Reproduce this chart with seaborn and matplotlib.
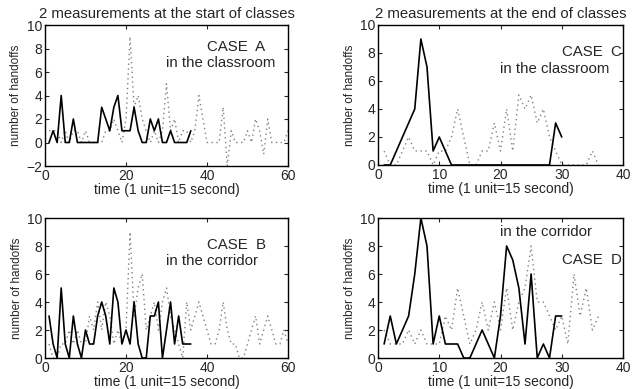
import numpy as np
import pandas as pd
import seaborn as sns
import matplotlib.pyplot as plt

# case A: start of classes, classroom
a_solid = [0, 1, 0, 4, 0, 0, 2, 0, 0, 0, 0, 0, 0, 3, 2, 1, 3, 4, 1, 1, 1, 3, 1, 0, 0, 2, 1, 2, 0, 0,
           1, 0, 0, 0, 0, 1]
a_dotted = [1, 1, 1, 0, 1, 0, 1, 1, 0, 1, 0, 0, 0, 0, 1, 1, 2, 1, 0, 2, 9, 3, 4, 2, 1, 0, 1, 0, 1, 5,
            1, 2, 0, 1, 1, 0, 1, 4, 2, 0, 0, 0, 0, 3, -2, 1, 0, 0, 0, 1, 0, 2, 1, -1, 2, 0, 0, 0, 0, 1]
# case B: start of classes, corridor
b_solid = [3, 1, 0, 5, 1, 0, 3, 1, 0, 2, 1, 1, 3, 4, 3, 1, 5, 4, 1, 2, 1, 4, 1, 0, 0, 3, 3, 4, 0, 2,
           4, 1, 3, 1, 1, 1]
b_dotted = [1, 0, 0, 1, 1, 2, 1, 2, 1, 1, 3, 2, 4, 2, 4, 3, 1, 2, 1, 2, 9, 3, 5, 6, 2, 3, 4, 2, 4, 5,
            3, 2, 1, 0, 4, 2, 3, 4, 3, 2, 1, 1, 2, 4, 2, 1, 1, 0, 0, 1, 2, 3, 1, 2, 3, 2, 1, 1, 2, 1]
# case C: end of classes, classroom
c_solid = [0, 0, 1, 2, 3, 4, 9, 7, 1, 2, 1, 0, 0, 0, 0, 0, 0, 0, 0, 0, 0, 0, 0, 0, 0, 0, 0, 0, 3, 2]
c_dotted = [1, 0, 0, 1, 2, 1, 1, 1, 0, 1, 1, 2, 4, 2, 0, 0, 1, 1, 3, 1, 4, 1, 5, 4, 5, 3, 4, 2, 1, 0,
            0, 0, 0, 0, 1, 0]
# case D: end of classes, corridor
d_solid = [1, 3, 1, 2, 3, 6, 10, 8, 1, 3, 1, 1, 1, 0, 0, 1, 2, 1, 0, 3, 8, 7, 5, 1, 6, 0, 1, 0, 3, 3]
d_dotted = [2, 1, 1, 1, 2, 1, 2, 1, 1, 1, 3, 2, 5, 3, 1, 2, 4, 2, 4, 2, 5, 2, 4, 5, 8, 4, 4, 3, 2, 3,
            1, 6, 3, 5, 2, 3]

font = ['Liberation Sans', 'DejaVu Sans']

sns.set_style('ticks')
plt.rcParams['font.family'] = font
plt.rcParams['xtick.direction'] = 'in'
plt.rcParams['ytick.direction'] = 'in'

fig = plt.figure(figsize=(6.32, 3.89), dpi=100)
W, H = 632, 389


def make_ax(left, top, right, bottom):
    return fig.add_axes([left / W, 1 - bottom / H, (right - left) / W, (bottom - top) / H])


panels = [
    # solid, dotted, box, xlim, ylim, title, texts
    (a_solid, a_dotted, (45, 25, 288, 166), 60, (-2, 10), '2 measurements at the start of classes',
     [(40, 8.15, 'CASE  A'), (30, 6.8, 'in the classroom')]),
    (c_solid, c_dotted, (378, 25, 623, 165), 40, (0, 10), '2 measurements at the end of classes',
     [(30, 8.1, 'CASE  C'), (20, 6.85, 'in the classroom')]),
    (b_solid, b_dotted, (45, 218, 288, 358), 60, (0, 10), None,
     [(40, 8.1, 'CASE  B'), (30, 6.9, 'in the corridor')]),
    (d_solid, d_dotted, (378, 218, 623, 358), 40, (0, 10), None,
     [(20, 9, 'in the corridor'), (30, 7, 'CASE  D')]),
]

for solid, dotted, box, xmax, ylim, title, texts in panels:
    ax = make_ax(*box)
    sns.lineplot(x=np.arange(1, len(dotted) + 1), y=dotted, ax=ax, color='0.5',
                 linestyle=(0, (1, 2.5)), linewidth=1.0)
    sns.lineplot(x=np.arange(1, len(solid) + 1), y=solid, ax=ax, color='black', linewidth=1.2)
    ax.set_xlim(0, xmax)
    ax.set_ylim(*ylim)
    ax.set_xticks(np.arange(0, xmax + 1, 20 if xmax == 60 else 10))
    ax.set_yticks(np.arange(ylim[0], ylim[1] + 1, 2))
    ax.tick_params(top=True, right=True, length=3, width=0.8, labelsize=10, pad=2)
    for s in ax.spines.values():
        s.set_visible(True)
        s.set_linewidth(1.0)
        s.set_color('black')
    ax.set_xlabel('time (1 unit=15 second)', fontsize=10, labelpad=0.5)
    ax.set_ylabel('number of handoffs', fontsize=8.5, labelpad=3)
    if title:
        ax.set_title(title, fontsize=10.7, pad=5)
    for tx, ty, s in texts:
        ax.text(tx, ty, s, fontsize=10.8, ha='left', va='center', clip_on=True)

fig.savefig('out.png', dpi=100)
